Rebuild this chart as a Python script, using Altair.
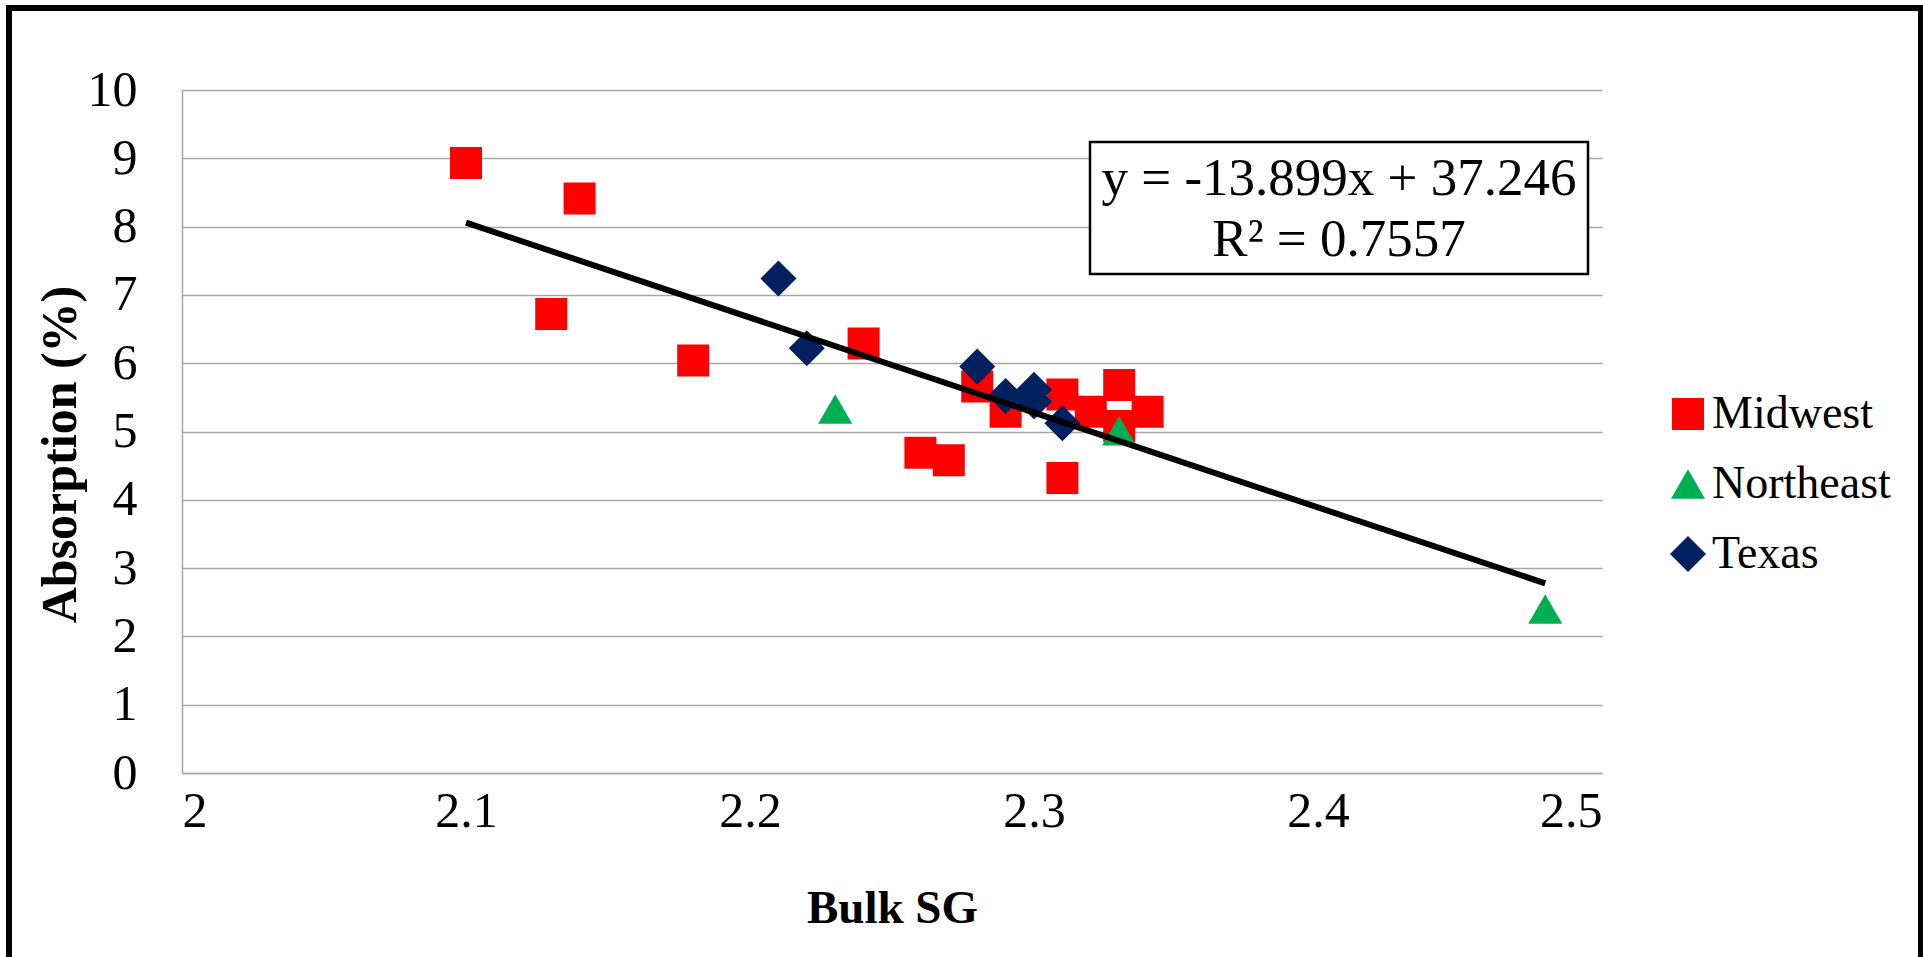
import altair as alt
import pandas as pd

# ---------------- data ----------------
regions = ["Midwest", "Northeast", "Texas"]
region_colors = ["#FF0000", "#00B050", "#002060"]
region_shapes = ["square", "triangle-up", "diamond"]
region_sizes = [1024, 1300, 1000]

midwest_sg = [2.10, 2.14, 2.13, 2.18, 2.24, 2.26, 2.27, 2.31, 2.28, 2.29, 2.31, 2.33, 2.32, 2.34, 2.33]
midwest_abs = [8.93, 8.41, 6.72, 6.04, 6.29, 4.69, 4.58, 4.32, 5.66, 5.29, 5.54, 5.68, 5.29, 5.29, 5.08]

northeast_sg = [2.23, 2.33, 2.48]
northeast_abs = [5.33, 5.01, 2.40]

texas_sg = [2.21, 2.22, 2.28, 2.29, 2.30, 2.30, 2.31]
texas_abs = [7.24, 6.22, 5.95, 5.52, 5.61, 5.44, 5.12]

trend_slope = -13.899
trend_intercept = 37.246
trend_r2 = 0.7557
trend_sg_range = [2.10, 2.48]

x_ticks = [2.0, 2.1, 2.2, 2.3, 2.4, 2.5]
y_ticks = [0, 1, 2, 3, 4, 5, 6, 7, 8, 9, 10]

# ---------------- tables ----------------
rows = []
for name, xs, ys in [("Midwest", midwest_sg, midwest_abs),
                     ("Northeast", northeast_sg, northeast_abs),
                     ("Texas", texas_sg, texas_abs)]:
    for xv, yv in zip(xs, ys):
        rows.append({"region": name, "sg": xv, "abs": yv})
points_df = pd.DataFrame(rows)

trend_df = pd.DataFrame({
    "sg": trend_sg_range,
    "abs": [trend_slope * v + trend_intercept for v in trend_sg_range],
})
one = pd.DataFrame({"k": [0]})

eq_line1 = f"y = {trend_slope:.3f}x + {trend_intercept:.3f}"
eq_line2 = f"R\u00b2 = {trend_r2:.4f}"

# ---------------- layout ----------------
PL, PT, PR, PB = 182, 90, 321, 184
W, H = 1420, 683
FONT = "Liberation Serif"
GRID = "#a6a6a6"

x_scale = alt.Scale(domain=[2.0, 2.5], nice=False, zero=False)
y_scale = alt.Scale(domain=[0, 10], nice=False, zero=True)

legend = alt.Legend(
    title=None, orient="none", legendX=1483, legendY=301,
    symbolSize=1024, symbolStrokeWidth=0, symbolOpacity=1,
    labelFont=FONT, labelFontSize=46, labelColor="black", labelLimit=0,
    labelOffset=1, rowPadding=24, padding=0, offset=0,
)

frame = alt.Chart(one).mark_rect(fill="transparent", stroke="black", strokeWidth=6).encode(
    x=alt.value(9 - PL), x2=alt.value(1921 - PL),
    y=alt.value(8 - PT), y2=alt.value(975 - PT),
)

points = alt.Chart(points_df).mark_point(filled=True, opacity=1, strokeWidth=0).encode(
    x=alt.X("sg:Q", scale=x_scale, axis=alt.Axis(
        values=x_ticks, format=".1~f", title="Bulk SG", grid=False, ticks=False,
        labelPadding=13, labelFont=FONT, labelFontSize=50, labelColor="black",
        titleFont=FONT, titleFontSize=47, titleFontWeight="bold", titleColor="black",
        titleBaseline="alphabetic", titleY=149,
        domainColor=GRID, domainWidth=1.5)),
    y=alt.Y("abs:Q", scale=y_scale, axis=alt.Axis(
        values=y_ticks, format="d", title="Absorption (%)", grid=True, gridColor=GRID, gridWidth=1.5,
        ticks=False, labelPadding=45, labelFont=FONT, labelFontSize=50, labelColor="black",
        titleFont=FONT, titleFontSize=50, titleFontWeight="bold", titleColor="black",
        titleBaseline="alphabetic", titleX=-107, titleY=364,
        domainColor=GRID, domainWidth=1.5)),
    color=alt.Color("region:N", scale=alt.Scale(domain=regions, range=region_colors), legend=legend),
    shape=alt.Shape("region:N", scale=alt.Scale(domain=regions, range=region_shapes), legend=legend),
    size=alt.Size("region:N", scale=alt.Scale(domain=regions, range=region_sizes), legend=None),
)

trend = alt.Chart(trend_df).mark_line(color="black", strokeWidth=6).encode(
    x=alt.X("sg:Q", scale=x_scale),
    y=alt.Y("abs:Q", scale=y_scale),
)

box = alt.Chart(one).mark_rect(fill="white", stroke="black", strokeWidth=2.5).encode(
    x=alt.value(1090 - PL), x2=alt.value(1588 - PL),
    y=alt.value(142 - PT), y2=alt.value(274 - PT),
)
txt1 = alt.Chart(one).mark_text(font=FONT, fontSize=53, align="center", baseline="alphabetic", color="black").encode(
    x=alt.value(1339 - PL), y=alt.value(195 - PT), text=alt.value(eq_line1))
txt2 = alt.Chart(one).mark_text(font=FONT, fontSize=53, align="center", baseline="alphabetic", color="black").encode(
    x=alt.value(1339 - PL), y=alt.value(256 - PT), text=alt.value(eq_line2))

chart = alt.layer(frame, points, trend, box, txt1, txt2).properties(
    width=W, height=H,
    autosize=alt.AutoSizeParams(type="none"),
    padding={"left": PL, "top": PT, "right": PR, "bottom": PB},
    background="white",
).configure_view(stroke=None)

chart.save("out.html", embed_options={"renderer": "svg", "actions": False})
